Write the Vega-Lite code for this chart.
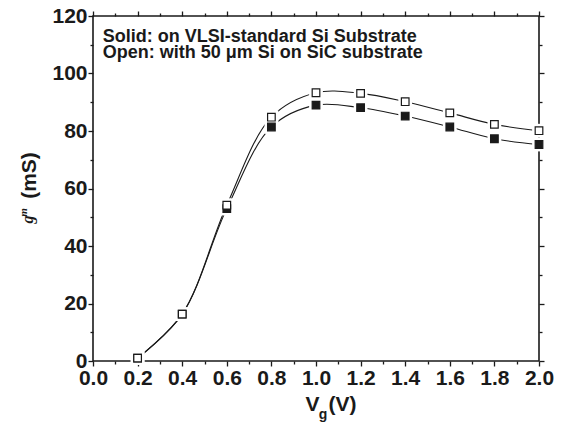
{
  "$schema": "https://vega.github.io/schema/vega-lite/v6.json",
  "width": 446,
  "height": 345,
  "autosize": "none",
  "padding": {"left": 93, "top": 16, "right": 24, "bottom": 66},
  "background": "white",
  "config": {
    "view": {"stroke": "#1a1a1a", "strokeWidth": 1.6},
    "font": "Liberation Sans",
    "axis": {"domain": false, "grid": false}
  },
  "data": {
    "values": [
      {"vg": 0.2, "gm": 1.0, "series": "solid"},
      {"vg": 0.4, "gm": 16.3, "series": "solid"},
      {"vg": 0.6, "gm": 53.0, "series": "solid"},
      {"vg": 0.8, "gm": 81.4, "series": "solid"},
      {"vg": 1.0, "gm": 89.0, "series": "solid"},
      {"vg": 1.2, "gm": 88.1, "series": "solid"},
      {"vg": 1.4, "gm": 85.2, "series": "solid"},
      {"vg": 1.6, "gm": 81.4, "series": "solid"},
      {"vg": 1.8, "gm": 77.3, "series": "solid"},
      {"vg": 2.0, "gm": 75.3, "series": "solid"},
      {"vg": 0.2, "gm": 1.0, "series": "open"},
      {"vg": 0.4, "gm": 16.3, "series": "open"},
      {"vg": 0.6, "gm": 54.2, "series": "open"},
      {"vg": 0.8, "gm": 84.8, "series": "open"},
      {"vg": 1.0, "gm": 93.3, "series": "open"},
      {"vg": 1.2, "gm": 93.1, "series": "open"},
      {"vg": 1.4, "gm": 90.2, "series": "open"},
      {"vg": 1.6, "gm": 86.3, "series": "open"},
      {"vg": 1.8, "gm": 82.3, "series": "open"},
      {"vg": 2.0, "gm": 80.1, "series": "open"}
    ]
  },
  "resolve": {"axis": {"x": "independent", "y": "independent"}},
  "layer": [
    {
      "transform": [{"filter": "datum.series === 'solid'"}],
      "mark": {"type": "line", "interpolate": "catmull-rom", "color": "#1a1a1a", "strokeWidth": 1.1},
      "encoding": {
        "x": {
          "field": "vg", "type": "quantitative",
          "scale": {"domain": [0, 2], "nice": false, "zero": false},
          "axis": {
            "orient": "bottom",
            "values": [0, 0.2, 0.4, 0.6, 0.8, 1.0, 1.2, 1.4, 1.6, 1.8, 2.0],
            "format": ".1f",
            "ticks": true, "tickSize": 5, "tickColor": "#1a1a1a", "tickWidth": 1.3,
            "labelFont": "Liberation Sans", "labelFontSize": 21, "labelFontWeight": "bold", "labelColor": "#1a1a1a",
            "labelBaseline": "alphabetic", "labelPadding": 18.8, "labelFlush": false, "labelOverlap": false,
            "title": "V", "titleFont": "Liberation Sans", "titleFontSize": 21, "titleFontWeight": "bold", "titleColor": "#1a1a1a",
            "titleX": 212, "titleY": 49.3, "titleAlign": "left", "titleBaseline": "alphabetic", "titleAnchor": null
          }
        },
        "y": {
          "field": "gm", "type": "quantitative",
          "scale": {"domain": [0, 120], "nice": false, "zero": false},
          "axis": {
            "orient": "left",
            "values": [0, 20, 40, 60, 80, 100, 120],
            "format": "d",
            "ticks": true, "tickSize": 5, "tickColor": "#1a1a1a", "tickWidth": 1.3,
            "labelFont": "Liberation Sans", "labelFontSize": 21, "labelFontWeight": "bold", "labelColor": "#1a1a1a",
            "labelBaseline": "middle", "labelPadding": 1, "labelFlush": false, "labelOverlap": false,
            "title": "(mS)", "titleFont": "Liberation Sans", "titleFontSize": 21, "titleFontWeight": "bold", "titleColor": "#1a1a1a",
            "titleX": -58, "titleY": 159, "titleAngle": -90, "titleAlign": "center", "titleBaseline": "alphabetic", "titleAnchor": null
          }
        }
      }
    },
    {
      "transform": [{"filter": "datum.series === 'open'"}],
      "mark": {"type": "line", "interpolate": "catmull-rom", "color": "#1a1a1a", "strokeWidth": 1.1},
      "encoding": {
        "x": {
          "field": "vg", "type": "quantitative",
          "scale": {"domain": [0, 2], "nice": false, "zero": false},
          "axis": {
            "orient": "top",
            "values": [0, 0.2, 0.4, 0.6, 0.8, 1.0, 1.2, 1.4, 1.6, 1.8, 2.0],
            "labels": false,
            "ticks": true, "tickSize": 5, "tickColor": "#1a1a1a", "tickWidth": 1.3,
            "title": null
          }
        },
        "y": {
          "field": "gm", "type": "quantitative",
          "scale": {"domain": [0, 120], "nice": false, "zero": false},
          "axis": {
            "orient": "right",
            "values": [0, 20, 40, 60, 80, 100, 120],
            "labels": false,
            "ticks": true, "tickSize": 5, "tickColor": "#1a1a1a", "tickWidth": 1.3,
            "title": null
          }
        }
      }
    },
    {
      "mark": {"type": "point", "shape": "square", "filled": true, "color": "white", "size": 190, "opacity": 1},
      "encoding": {
        "x": {
          "field": "vg", "type": "quantitative",
          "scale": {"domain": [0, 2], "nice": false, "zero": false},
          "axis": {
            "orient": "bottom",
            "values": [0.1, 0.3, 0.5, 0.7, 0.9, 1.1, 1.3, 1.5, 1.7, 1.9],
            "labels": false,
            "ticks": true, "tickSize": 3, "tickColor": "#1a1a1a", "tickWidth": 1.3,
            "title": "g", "titleFont": "Liberation Sans", "titleFontSize": 14, "titleFontWeight": "bold", "titleColor": "#1a1a1a",
            "titleX": 225.3, "titleY": 57.3, "titleAlign": "left", "titleBaseline": "alphabetic", "titleAnchor": null
          }
        },
        "y": {
          "field": "gm", "type": "quantitative",
          "scale": {"domain": [0, 120], "nice": false, "zero": false},
          "axis": {
            "orient": "left",
            "values": [10, 30, 50, 70, 90, 110],
            "labels": false,
            "ticks": true, "tickSize": 3, "tickColor": "#1a1a1a", "tickWidth": 1.3,
            "title": "g", "titleFont": "Liberation Serif", "titleFontSize": 16, "titleFontWeight": "bold", "titleFontStyle": "italic", "titleColor": "#1a1a1a",
            "titleX": -61, "titleY": 203, "titleAngle": -90, "titleAlign": "center", "titleBaseline": "alphabetic", "titleAnchor": null
          }
        }
      }
    },
    {
      "mark": {"type": "point", "shape": "square", "filled": true, "size": 58, "stroke": "#1a1a1a", "strokeWidth": 1.2, "opacity": 1},
      "encoding": {
        "x": {
          "field": "vg", "type": "quantitative",
          "scale": {"domain": [0, 2], "nice": false, "zero": false},
          "axis": {
            "orient": "bottom", "labels": false, "ticks": false,
            "title": "(V)", "titleFont": "Liberation Sans", "titleFontSize": 21, "titleFontWeight": "bold", "titleColor": "#1a1a1a",
            "titleX": 235, "titleY": 49.3, "titleAlign": "left", "titleBaseline": "alphabetic", "titleAnchor": null
          }
        },
        "y": {
          "field": "gm", "type": "quantitative",
          "scale": {"domain": [0, 120], "nice": false, "zero": false},
          "axis": {
            "orient": "left", "labels": false, "ticks": false,
            "title": "m", "titleFont": "Liberation Serif", "titleFontSize": 11, "titleFontWeight": "bold", "titleFontStyle": "italic", "titleColor": "#1a1a1a",
            "titleX": -66.3, "titleY": 196, "titleAngle": -90, "titleAlign": "center", "titleBaseline": "alphabetic", "titleAnchor": null
          }
        },
        "fill": {
          "field": "series", "type": "nominal",
          "scale": {"domain": ["solid", "open"], "range": ["#1a1a1a", "white"]},
          "legend": null
        }
      }
    },
    {
      "data": {"values": [{"note": "Solid: on VLSI-standard Si Substrate"}]},
      "mark": {
        "type": "text",
        "font": "Liberation Sans", "fontSize": 18, "fontWeight": "bold", "color": "#1a1a1a",
        "align": "left", "baseline": "alphabetic"
      },
      "encoding": {
        "text": {"field": "note"},
        "x": {
          "datum": 0.0435, "type": "quantitative",
          "scale": {"domain": [0, 2], "nice": false, "zero": false},
          "axis": {
            "orient": "top",
            "values": [0.1, 0.3, 0.5, 0.7, 0.9, 1.1, 1.3, 1.5, 1.7, 1.9],
            "labels": false,
            "ticks": true, "tickSize": 3, "tickColor": "#1a1a1a", "tickWidth": 1.3,
            "title": null
          }
        },
        "y": {
          "datum": 111, "type": "quantitative",
          "scale": {"domain": [0, 120], "nice": false, "zero": false},
          "axis": {
            "orient": "right",
            "values": [10, 30, 50, 70, 90, 110],
            "labels": false,
            "ticks": true, "tickSize": 3, "tickColor": "#1a1a1a", "tickWidth": 1.3,
            "title": null
          }
        }
      }
    },
    {
      "data": {"values": [{"note": "Open: with 50 μm Si on SiC substrate"}]},
      "mark": {
        "type": "text",
        "font": "Liberation Sans", "fontSize": 18, "fontWeight": "bold", "color": "#1a1a1a",
        "align": "left", "baseline": "alphabetic"
      },
      "encoding": {
        "text": {"field": "note"},
        "x": {"datum": 0.0435, "type": "quantitative", "scale": {"domain": [0, 2], "nice": false, "zero": false}, "axis": null},
        "y": {"datum": 105.3, "type": "quantitative", "scale": {"domain": [0, 120], "nice": false, "zero": false}, "axis": null}
      }
    }
  ]
}
